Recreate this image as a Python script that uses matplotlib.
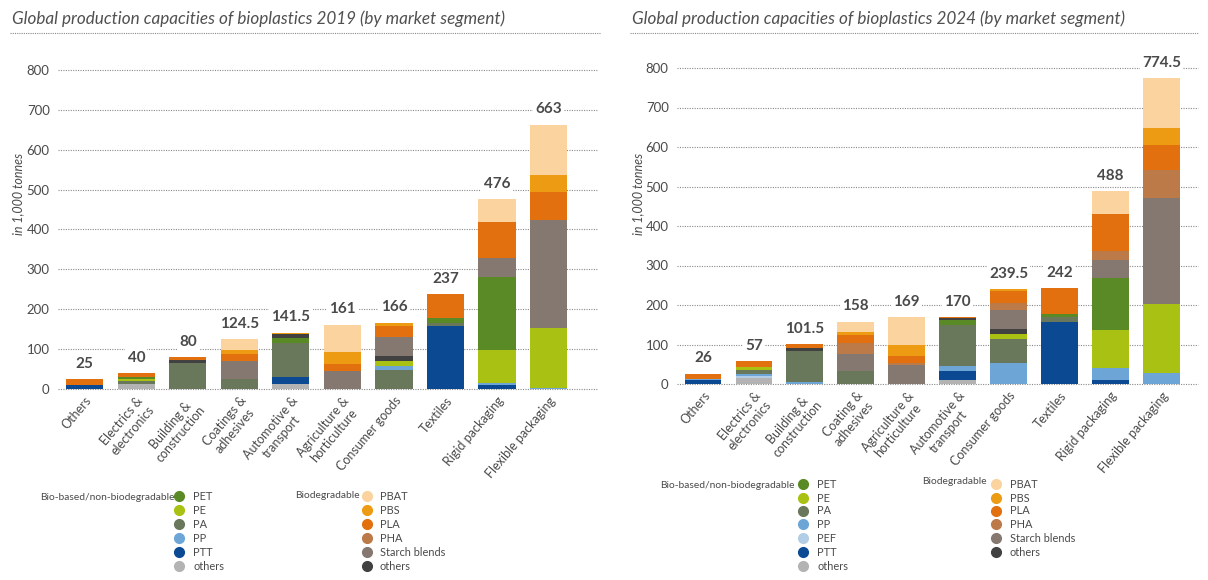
import matplotlib
matplotlib.use("Agg")
import matplotlib.pyplot as plt
from matplotlib.lines import Line2D
import numpy as np

plt.rcParams['font.family'] = ['Lato', 'DejaVu Sans']

# ---------------- data (1,000 tonnes) ----------------
segments_2019 = ["Others", "Electrics &\nelectronics", "Building &\nconstruction",
                 "Coatings &\nadhesives", "Automotive &\ntransport",
                 "Agriculture &\nhorticulture", "Consumer goods", "Textiles",
                 "Rigid packaging", "Flexible packaging"]
segments_2024 = ["Others", "Electrics &\nelectronics", "Building &\nconstruction",
                 "Coating &\nadhesives", "Agriculture &\nhorticulture",
                 "Automotive &\ntransport", "Consumer goods", "Textiles",
                 "Rigid packaging", "Flexible packaging"]

# 2019 capacities per material
others_bio_2019 = [0, 12, 0, 0, 12, 0, 0, 0, 0, 0]
ptt_2019 = [9, 0, 0, 0, 18, 0, 0, 157, 11, 0]
pa_2019 = [0, 8, 65, 25, 86, 0, 48, 8, 0, 0]
pp_2019 = [1, 0, 0, 0, 0, 0, 9, 0, 3, 3]
pe_2019 = [0, 5, 0, 0, 0, 0, 12, 0, 83, 150]
pet_2019 = [0, 5, 0, 0, 13, 0, 0, 14, 185, 0]
others_bd_2019 = [0, 0, 7, 0, 9, 0, 13, 0, 0, 0]
starch_2019 = [0, 0, 0, 45, 0, 46, 48, 0, 47, 272]
pha_2019 = [0, 0, 0, 0, 0, 0, 0, 0, 0, 0]
pla_2019 = [15, 10, 8, 19, 0, 16, 27, 58, 91, 69]
pbs_2019 = [0, 0, 0, 8, 3.5, 30, 9, 0, 0, 42]
pbat_2019 = [0, 0, 0, 27.5, 0, 69, 0, 0, 56, 127]

# 2024 capacities per material
others_bio_2024 = [0, 15, 0, 0, 0, 11, 0, 0, 0, 0]
ptt_2024 = [10, 0, 0, 0, 0, 22, 0, 158, 10, 0]
pef_2024 = [0, 5, 0, 0, 0, 0, 0, 0, 0, 0]
pp_2024 = [2, 5, 5, 0, 0, 13, 54, 0, 30, 27]
pa_2024 = [0, 11, 79, 32, 0, 104, 59, 12, 0, 0]
pe_2024 = [0, 6, 0, 0, 0, 0, 13, 0, 96, 175]
pet_2024 = [0, 0, 0, 0, 0, 11, 0, 8, 133, 0]
others_bd_2024 = [0, 0, 7, 0, 0, 6, 14, 0, 0, 0]
starch_2024 = [0, 0, 0, 44, 48, 0, 47, 0, 44, 268]
pha_2024 = [0, 0, 0, 28, 5, 0, 18, 0, 24, 73]
pla_2024 = [14, 15, 10.5, 21, 18, 3, 30, 64, 94, 63]
pbs_2024 = [0, 0, 0, 7, 29, 0, 4.5, 0, 0, 41]
pbat_2024 = [0, 0, 0, 26, 69, 0, 0, 0, 57, 127.5]

y_ticks = [0, 100, 200, 300, 400, 500, 600, 700, 800]

# ---------------- colours ----------------
COL = {
    "PET": "#5a8a25", "PE": "#a9c112", "PA": "#69775a", "PP": "#6da6d6",
    "PEF": "#b2cde6", "PTT": "#0b4a93", "others_bio": "#b3b3b3",
    "PBAT": "#fbd39e", "PBS": "#ec9b12", "PLA": "#e2700f", "PHA": "#bb7a48",
    "Starch blends": "#857870", "others_bd": "#414141",
}
TXT = "#4a4a4a"
GRID = "#8a8a8a"

layers_2019 = [("others_bio", others_bio_2019), ("PTT", ptt_2019), ("PA", pa_2019),
               ("PP", pp_2019), ("PE", pe_2019), ("PET", pet_2019),
               ("others_bd", others_bd_2019), ("Starch blends", starch_2019),
               ("PHA", pha_2019), ("PLA", pla_2019), ("PBS", pbs_2019),
               ("PBAT", pbat_2019)]
layers_2024 = [("others_bio", others_bio_2024), ("PTT", ptt_2024), ("PEF", pef_2024),
               ("PP", pp_2024), ("PA", pa_2024), ("PE", pe_2024), ("PET", pet_2024),
               ("others_bd", others_bd_2024), ("Starch blends", starch_2024),
               ("PHA", pha_2024), ("PLA", pla_2024), ("PBS", pbs_2024),
               ("PBAT", pbat_2024)]

fig = plt.figure(figsize=(12.08, 5.8), dpi=100)


def panel(rect, cats, layers, xlim, title, title_x, rule_x0, rule_x1, ylab_x):
    ax = fig.add_axes(rect)
    x = np.arange(len(cats))
    bottom = np.zeros(len(cats))
    for key, vals in layers:
        v = np.array(vals, dtype=float)
        ax.bar(x, v, bottom=bottom, width=0.72, color=COL[key], linewidth=0, zorder=3)
        bottom += v
    for xi, tot in zip(x, bottom):
        ax.annotate(f"{tot:g}", (xi, tot), xytext=(0, 6), textcoords="offset points",
                    ha="center", va="bottom", fontsize=11, fontweight="bold",
                    color=TXT, zorder=5,
                    bbox=dict(boxstyle="square,pad=0.15", fc="white", ec="none"))
    ax.set_xlim(*xlim)
    ax.set_ylim(0, 800)
    ax.set_yticks(y_ticks)
    ax.yaxis.grid(True, linestyle=(0, (1, 1.2)), color=GRID, linewidth=0.8, zorder=1)
    for gl in ax.get_ygridlines():
        gl.set_clip_on(False)
    ax.set_axisbelow(True)
    for s in ax.spines.values():
        s.set_visible(False)
    ax.tick_params(axis="y", length=0, labelsize=9.5, labelcolor=TXT, pad=6)
    ax.tick_params(axis="x", length=0, labelsize=9, labelcolor=TXT, pad=4)
    ax.set_xticks(x)
    ax.set_xticklabels(cats, rotation=50, ha="right", rotation_mode="anchor",
                       multialignment="center")
    fig.text(ylab_x, 0.665, "in 1,000 tonnes", rotation=90, fontsize=9,
             style="italic", color=TXT, ha="center", va="center")
    fig.text(title_x, 0.968, title, fontsize=12.3, style="italic", color="#505050",
             ha="left", va="center")
    fig.add_artist(Line2D([rule_x0, rule_x1], [0.943, 0.943], transform=fig.transFigure,
                          linestyle=(0, (1, 1)), color=GRID, linewidth=0.8))
    return ax


W, H = 1208.0, 580.0
panel([58 / W, (H - 389) / H, (598 - 58) / W, (389 - 70) / H], segments_2019,
      layers_2019, (-0.52, 9.96),
      "Global production capacities of bioplastics 2019 (by market segment)",
      12 / W, 10 / W, 600 / W, 18 / W)
panel([677 / W, (H - 384) / H, (1198 - 677) / W, (384 - 68) / H], segments_2024,
      layers_2024, (-0.51, 9.72),
      "Global production capacities of bioplastics 2024 (by market segment)",
      632 / W, 630 / W, 1198 / W, 638 / W)


def legend(head_x, head_y, dot_x, label_x, rows_y, entries):
    fig.text(head_x / W, 1 - head_y / H, entries[0], fontsize=7.4, color=TXT,
             ha="left", va="center")
    for ry, (lab, key) in zip(rows_y, entries[1]):
        fig.add_artist(Line2D([dot_x / W], [1 - ry / H], marker="o", markersize=7,
                              color=COL[key], linestyle="none",
                              transform=fig.transFigure))
        fig.text(label_x / W, 1 - ry / H, lab, fontsize=7.9, color=TXT,
                 ha="left", va="center")


bio_2019 = [("PET", "PET"), ("PE", "PE"), ("PA", "PA"), ("PP", "PP"),
            ("PTT", "PTT"), ("others", "others_bio")]
bio_2024 = [("PET", "PET"), ("PE", "PE"), ("PA", "PA"), ("PP", "PP"),
            ("PEF", "PEF"), ("PTT", "PTT"), ("others", "others_bio")]
biodeg = [("PBAT", "PBAT"), ("PBS", "PBS"), ("PLA", "PLA"), ("PHA", "PHA"),
          ("Starch blends", "Starch blends"), ("others", "others_bd")]

legend(40, 497, 179, 193, [496, 510, 524, 538, 552, 566],
       ("Bio-based/non-biodegradable", bio_2019))
legend(295, 495, 367, 380, [496, 510, 524, 538, 552, 566],
       ("Biodegradable", biodeg))
legend(660, 485, 803, 817, [484, 498, 511, 524, 538, 552, 566],
       ("Bio-based/non-biodegradable", bio_2024))
legend(922, 482, 996, 1010, [484, 498, 511, 524, 538, 552],
       ("Biodegradable", biodeg))

fig.savefig("out.png", dpi=100, facecolor="white")
